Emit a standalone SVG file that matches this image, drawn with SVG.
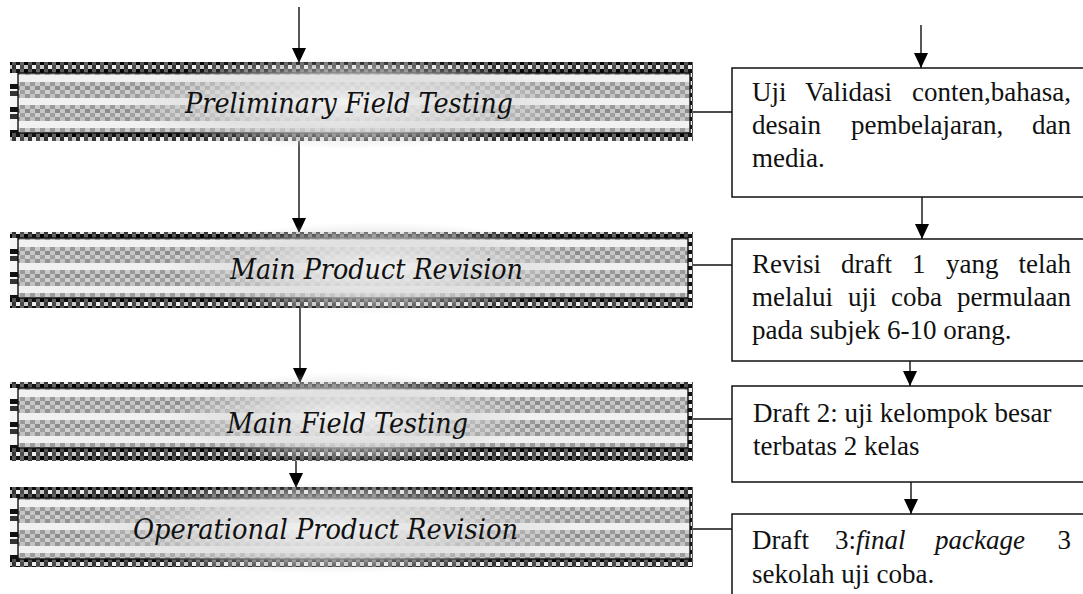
<svg xmlns="http://www.w3.org/2000/svg" width="1083" height="594" viewBox="0 0 1083 594">
  <style>
    .band { fill: url(#band); }
    .side { fill: url(#side); }
    .inner { fill: url(#stripes); stroke: #111; stroke-width: 1.4; }
    .glow { fill: url(#glow); }
    .stage { font-family: "DejaVu Serif", "Liberation Serif", serif; font-style: italic; font-stretch: condensed; fill: #111; }
    .note { fill: #fff; stroke: #111; stroke-width: 1.5; }
    .txt { font-family: "Liberation Serif", "Times New Roman", serif; font-size: 27px; fill: #111; }
    .it { font-style: italic; }
    .link { stroke: #111; stroke-width: 1.4; fill: none; }
    .arrow { stroke: #111; stroke-width: 1.4; fill: none; marker-end: url(#head); }
  </style>
  <defs>
    <!-- checkered frame texture -->
    <pattern id="band" width="16" height="8" patternUnits="userSpaceOnUse">
      <rect width="16" height="8" fill="#222"/>
      <rect x="0" y="0" width="4" height="4" fill="#eeeeee"/>
      <rect x="4" y="0" width="4" height="4" fill="#4a4a4a"/>
      <rect x="8" y="0" width="4" height="4" fill="#c8c8c8"/>
      <rect x="12" y="0" width="4" height="4" fill="#333"/>
      <rect x="0" y="4" width="4" height="4" fill="#111"/>
      <rect x="4" y="4" width="4" height="4" fill="#666"/>
      <rect x="8" y="4" width="4" height="4" fill="#000"/>
      <rect x="12" y="4" width="4" height="4" fill="#555"/>
    </pattern>
    <!-- frame sides: white gaps between dark blocks -->
    <pattern id="side" width="8" height="23" patternUnits="userSpaceOnUse" y="2">
      <rect width="8" height="23" fill="#f6f6f6"/>
      <rect x="0" y="9" width="8" height="5" fill="#111"/>
      <rect x="0" y="16" width="8" height="5" fill="#333"/>
    </pattern>
    <!-- striped body: light bands between grey checks -->
    <pattern id="stripes" width="10" height="23" patternUnits="userSpaceOnUse" y="2">
      <rect width="10" height="23" fill="#b4b4b4"/>
      <rect x="0" y="0" width="10" height="7" fill="#f1f1f1"/>
      <rect x="0" y="7" width="5" height="4" fill="#9a9a9a"/>
      <rect x="5" y="7" width="5" height="4" fill="#cacaca"/>
      <rect x="0" y="11" width="5" height="4" fill="#c6c6c6"/>
      <rect x="5" y="11" width="5" height="4" fill="#8c8c8c"/>
      <rect x="0" y="15" width="5" height="4" fill="#a0a0a0"/>
      <rect x="5" y="15" width="5" height="4" fill="#d0d0d0"/>
      <rect x="0" y="19" width="5" height="4" fill="#c2c2c2"/>
      <rect x="5" y="19" width="5" height="4" fill="#959595"/>
    </pattern>
    <radialGradient id="glow" cx="0.5" cy="0.5" r="0.5">
      <stop offset="0" stop-color="#f3f3f3" stop-opacity="0.95"/>
      <stop offset="0.55" stop-color="#dcdcdc" stop-opacity="0.8"/>
      <stop offset="1" stop-color="#d0d0d0" stop-opacity="0"/>
    </radialGradient>
    <!-- solid triangular arrowhead, tip at the line end -->
    <marker id="head" markerWidth="15" markerHeight="14" refX="15" refY="7" orient="auto" markerUnits="userSpaceOnUse" viewBox="0 0 15 14">
      <path d="M0,0 L15,7 L0,14 Z" fill="#000"/>
    </marker>
  </defs>

  <rect width="1083" height="594" fill="#fff"/>

  <!-- connectors -->
  <g id="connectors">
    <line class="arrow" x1="299" y1="7" x2="299" y2="63"/>
    <line class="arrow" x1="299" y1="141" x2="299" y2="233"/>
    <line class="arrow" x1="300" y1="298" x2="300" y2="383"/>
    <line class="arrow" x1="296" y1="461" x2="296" y2="488"/>
    <line class="arrow" x1="921" y1="25" x2="921" y2="68"/>
    <line class="arrow" x1="922" y1="197" x2="922" y2="239"/>
    <line class="arrow" x1="910" y1="361" x2="910" y2="386"/>
    <line class="arrow" x1="911" y1="482" x2="911" y2="514"/>
    <line class="link" x1="693" y1="112" x2="732" y2="112"/>
    <line class="link" x1="693" y1="265" x2="732" y2="265"/>
    <line class="link" x1="693" y1="419" x2="732" y2="419"/>
    <line class="link" x1="693" y1="529" x2="732" y2="529"/>
  </g>

  <!-- stage boxes -->
  <g id="preliminary-field-testing" transform="translate(0 73)">
    <rect class="band" x="10" y="-11" width="683" height="79"/>
    <rect class="side" x="10" y="0" width="8" height="60"/>
    <rect class="inner" x="18" y="0" width="672" height="60"/>
    <ellipse class="glow" cx="349" cy="30" rx="230" ry="46"/>
    <text class="stage" x="185" y="40" font-size="27" textLength="328" lengthAdjust="spacingAndGlyphs">Preliminary Field Testing</text>
  </g>

  <g id="main-product-revision" transform="translate(0 238)">
    <rect class="band" x="10" y="-6" width="683" height="76"/>
    <rect class="side" x="10" y="0" width="8" height="60"/>
    <rect class="inner" x="18" y="0" width="670" height="60"/>
    <ellipse class="glow" cx="376" cy="30" rx="210" ry="46"/>
    <text class="stage" x="230" y="41" font-size="28" textLength="293" lengthAdjust="spacingAndGlyphs">Main Product Revision</text>
  </g>

  <g id="main-field-testing" transform="translate(0 388)">
    <rect class="band" x="10" y="-6" width="683" height="79"/>
    <rect class="side" x="10" y="0" width="8" height="60"/>
    <rect class="inner" x="18" y="0" width="670" height="60"/>
    <ellipse class="glow" cx="347" cy="30" rx="180" ry="46"/>
    <text class="stage" x="227" y="45" font-size="28" textLength="241" lengthAdjust="spacingAndGlyphs">Main Field Testing</text>
  </g>

  <g id="operational-product-revision" transform="translate(0 498)">
    <rect class="band" x="10" y="-11" width="683" height="80"/>
    <rect class="side" x="10" y="0" width="8" height="61"/>
    <rect class="inner" x="18" y="0" width="672" height="61"/>
    <ellipse class="glow" cx="325" cy="30" rx="250" ry="46"/>
    <text class="stage" x="133" y="41" font-size="28" textLength="385" lengthAdjust="spacingAndGlyphs">Operational Product Revision</text>
  </g>

  <!-- activity notes -->
  <g id="note-validasi">
    <rect class="note" x="732" y="68" width="360" height="129"/>
    <text class="txt" y="101"><tspan x="752">Uji</tspan><tspan x="805">Validasi</tspan><tspan x="1071" text-anchor="end">conten,bahasa,</tspan></text>
    <text class="txt" y="134"><tspan x="752">desain</tspan><tspan x="851">pembelajaran,</tspan><tspan x="1071" text-anchor="end">dan</tspan></text>
    <text class="txt" x="752" y="167">media.</text>
  </g>

  <g id="note-revisi">
    <rect class="note" x="732" y="239" width="360" height="122"/>
    <text class="txt" y="273"><tspan x="752">Revisi</tspan><tspan x="841">draft</tspan><tspan x="912">1</tspan><tspan x="946">yang</tspan><tspan x="1071" text-anchor="end">telah</tspan></text>
    <text class="txt" y="306"><tspan x="752">melalui</tspan><tspan x="848">uji</tspan><tspan x="891">coba</tspan><tspan x="1071" text-anchor="end">permulaan</tspan></text>
    <text class="txt" x="752" y="339">pada subjek 6-10 orang.</text>
  </g>

  <g id="note-draft-2">
    <rect class="note" x="732" y="386" width="360" height="96"/>
    <text class="txt" x="753" y="422">Draft 2: uji kelompok besar</text>
    <text class="txt" x="753" y="455">terbatas 2 kelas</text>
  </g>

  <g id="note-draft-3">
    <rect class="note" x="732" y="514" width="360" height="100"/>
    <text class="txt" y="549"><tspan x="752">Draft</tspan><tspan x="835">3:</tspan><tspan class="it">final</tspan><tspan class="it" x="935">package</tspan><tspan x="1071" text-anchor="end">3</tspan></text>
    <text class="txt" x="752" y="583">sekolah uji coba.</text>
  </g>
</svg>
